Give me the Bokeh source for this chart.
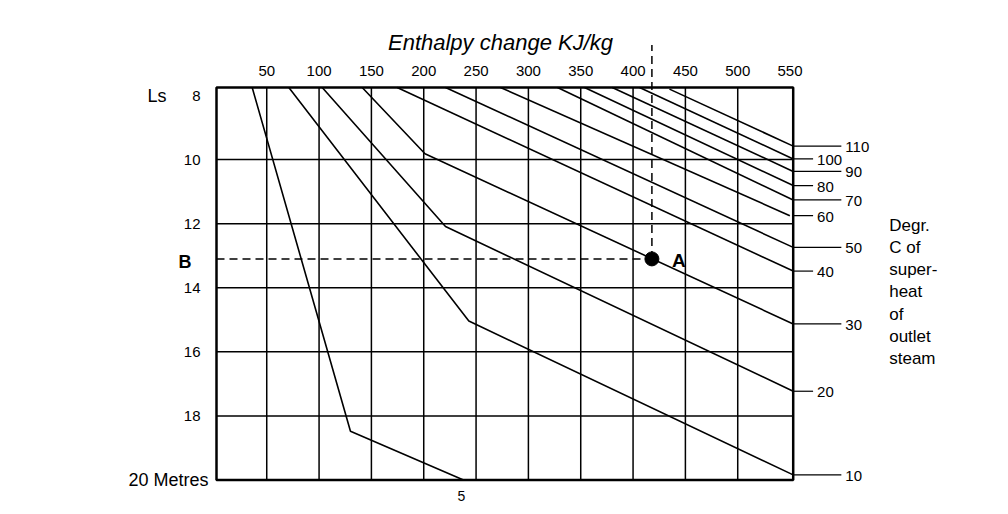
from bokeh.plotting import figure
from bokeh.models import Range1d, FixedTicker, LinearAxis, ColumnDataSource
from bokeh.core.properties import value
from bokeh.embed import file_html
from bokeh.resources import INLINE

FONT = "Liberation Sans"

# ---- scales: enthalpy change (kJ/kg) and Ls (metres) ----
enthalpy_ticks = [50, 100, 150, 200, 250, 300, 350, 400, 450, 500, 550]
enthalpy_grid = [50, 100, 150, 200, 250, 300, 350, 400, 450, 500]
ls_ticks = [8, 10, 12, 14, 16, 18]
ls_grid = [10, 12, 14, 16, 18]
H_MIN, H_MAX = 2, 553          # left / right edge of the chart box
LS_TOP, LS_BOTTOM = 7.75, 20   # top / bottom edge of the chart box
LS_LABEL_BOTTOM = 20

# ---- superheat curves (degr. C of superheat of outlet steam) ----
superheat = [5, 10, 20, 30, 40, 50, 60, 70, 80, 90, 100, 110]
curve_h = [
    [36.1, 130.0, 238.0],
    [71.1, 243.1, 553.0],
    [103.0, 220.8, 553.0],
    [141.2, 201.2, 553.0],
    [174.6, 553.0],
    [220.8, 553.0],
    [273.3, 549.8],
    [327.8, 553.0],
    [353.6, 553.0],
    [380.1, 553.0],
    [406.2, 553.0],
    [434.8, 553.0],
]
curve_ls = [
    [7.75, 18.48, 20.0],
    [7.75, 15.04, 19.84],
    [7.75, 12.09, 17.23],
    [7.75, 9.82, 15.13],
    [7.75, 13.48],
    [7.75, 12.74],
    [7.75, 11.75],
    [7.75, 11.26],
    [7.75, 10.81],
    [7.75, 10.37],
    [7.75, 9.98],
    [7.80, 9.58],
]

# example reading: point A on the 30 degree curve, read across to B
A_H, A_LS = 418.0, 13.1
TOP_DASH_END = 6.42
SCALE_TITLE_LS = 11.75

# ---- layout: the chart box sits at these canvas pixels; the frame fills the canvas ----
W, H = 1000, 506
BOX_L, BOX_R, BOX_T, BOX_B = 216.0, 792.7, 87.0, 479.5
kx = (BOX_R - BOX_L) / (H_MAX - H_MIN)
ky = (BOX_B - BOX_T) / (LS_BOTTOM - LS_TOP)
x_range = Range1d(H_MIN - BOX_L / kx, H_MAX + (W - BOX_R) / kx)
y_range = Range1d(LS_BOTTOM + (H - BOX_B) / ky, LS_TOP - BOX_T / ky)

p = figure(width=W, height=H, output_backend="svg", toolbar_location=None,
           x_range=x_range, y_range=y_range, x_axis_type=None, y_axis_type=None,
           min_border=0)
p.min_border_left = p.min_border_right = p.min_border_top = p.min_border_bottom = 0
p.background_fill_color = "white"
p.border_fill_color = "white"
p.outline_line_color = None

# axes drawn along the box edges
xa = LinearAxis(fixed_location=LS_TOP, ticker=FixedTicker(ticks=enthalpy_ticks))
xa.axis_label = "Enthalpy change KJ/kg"
xa.axis_label_text_font = FONT
xa.axis_label_text_font_style = "italic"
xa.axis_label_text_font_size = "22px"
xa.axis_label_text_color = "black"
xa.axis_label_standoff = 8
xa.major_label_standoff = 6
p.add_layout(xa, "above")

ya = LinearAxis(fixed_location=H_MIN, ticker=FixedTicker(ticks=ls_ticks))
ya.major_label_standoff = 10
p.add_layout(ya, "left")

for ax in (xa, ya):
    ax.axis_line_color = None
    ax.major_tick_line_color = None
    ax.minor_tick_line_color = None
    ax.major_label_text_font = FONT
    ax.major_label_text_font_size = "15px"
    ax.major_label_text_color = "black"

# grid inside the box
p.segment(x0=enthalpy_grid, y0=[LS_TOP] * len(enthalpy_grid),
          x1=enthalpy_grid, y1=[LS_BOTTOM] * len(enthalpy_grid),
          line_color="black", line_width=1.5)
p.segment(x0=[H_MIN] * len(ls_grid), y0=ls_grid, x1=[H_MAX] * len(ls_grid), y1=ls_grid,
          line_color="black", line_width=1.5)

# curves
p.multi_line(xs=curve_h, ys=curve_ls, line_color="black", line_width=1.6)

# box
p.quad(left=[H_MIN], right=[H_MAX], top=[LS_TOP], bottom=[LS_BOTTOM],
       fill_color=None, line_color="black", line_width=2.5)

# dashed reading lines and point A
p.line([H_MIN, A_H], [A_LS, A_LS], line_color="black", line_width=1.5, line_dash="8 5")
p.line([A_H, A_H], [A_LS, TOP_DASH_END], line_color="black", line_width=1.5, line_dash="8 5")
p.scatter([A_H], [A_LS], size=14, color="black")

txt = dict(text_font=value(FONT), text_color="black")
p.text(x=[A_H], y=[A_LS], text=["A"], x_offset=20, y_offset=2, text_baseline="middle",
       text_font_size="19px", text_font_style="bold", **txt)
p.text(x=[H_MIN], y=[A_LS], text=["B"], x_offset=-38, y_offset=3, text_baseline="middle",
       text_font_size="18px", text_font_style="bold", **txt)
p.text(x=[H_MIN], y=[ls_ticks[0]], text=["Ls"], x_offset=-69, text_baseline="middle",
       text_font_size="18px", **txt)
p.text(x=[H_MIN], y=[LS_LABEL_BOTTOM], text=["20 Metres"], x_offset=-8, text_align="right",
       text_baseline="alphabetic", text_font_size="18px", **txt)

# superheat scale on the right edge: end point of each curve
end_vals = superheat[1:]
end_ls = [c[-1] for c in curve_ls[1:]]
tick_len = [46 if (v // 10) % 2 == 1 else 19 for v in end_vals]
src = ColumnDataSource(dict(
    x0=[H_MAX] * len(end_vals),
    x1=[H_MAX + t for t in tick_len],
    y=end_ls,
    txt=[str(v) for v in end_vals],
))
p.segment(x0="x0", y0="y", x1="x1", y1="y", source=src, line_color="black", line_width=1.2)
p.text(x="x1", y="y", text="txt", source=src, x_offset=4, y_offset=1,
       text_baseline="middle", text_align="left", text_font_size="15px", **txt)

# the 5 degree curve ends on the bottom edge
p.text(x=[curve_h[0][-1]], y=[curve_ls[0][-1]], text=[str(superheat[0])], x_offset=-2, y_offset=11,
       text_align="center", text_baseline="top", text_font_size="14px", **txt)

# scale title
p.text(x=[H_MAX], y=[SCALE_TITLE_LS], x_offset=96,
       text=["Degr.\nC of\nsuper-\nheat\nof\noutlet\nsteam"],
       text_align="left", text_baseline="top", text_line_height=1.17,
       text_font_size="17px", **txt)

open("out.html", "w").write(file_html(p, INLINE))
